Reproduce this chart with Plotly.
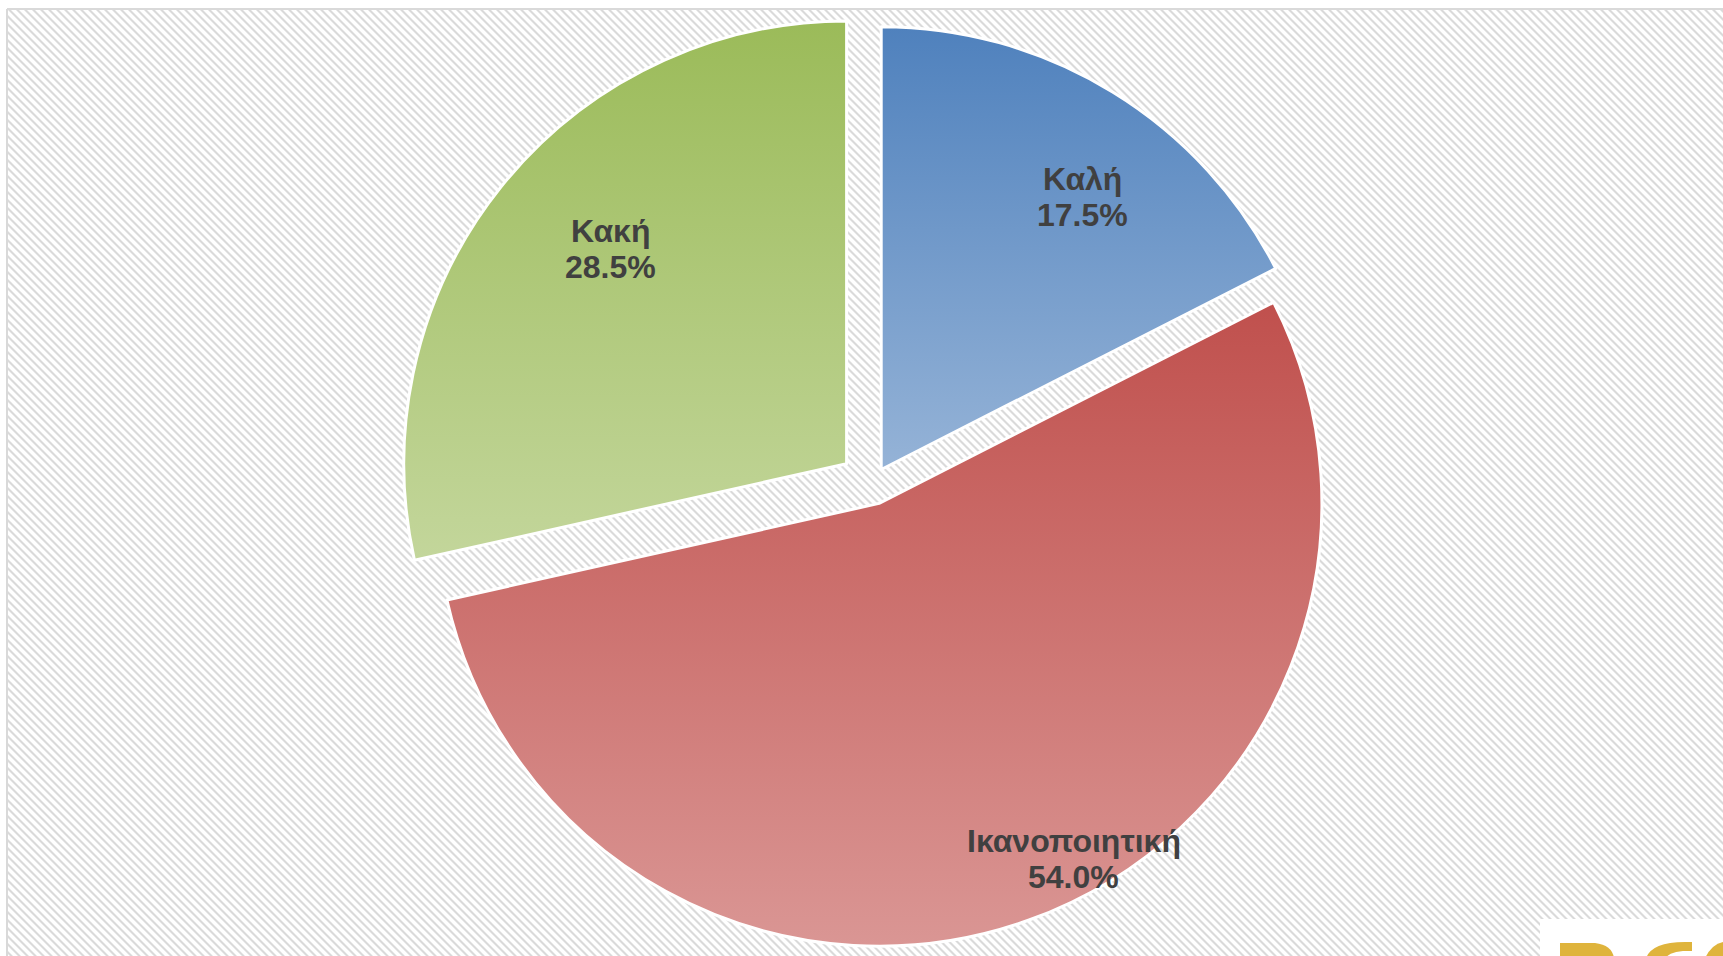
import json
import math
import base64
import plotly.graph_objects as go

# ---- data ----
labels = ["Καλή", "Ικανοποιητική", "Κακή"]
values = [17.5, 54.0, 28.5]
pulls = [0.039, 0.046, 0.074]
colors_top = ["#4F81BD", "#C0504D", "#9BBB59"]
colors_bottom = ["#95B3D7", "#DA9694", "#C3D69B"]

# label placement (fraction of radius from slice vertex, angle offset from bisector, extra px up)
label_rfrac = [0.762, 0.919, 0.719]
label_dang = [5.3, -8.9, 3.1]
label_dy = [4, 0, 4]

W, H = 1723, 980          # figure is slightly taller than the 956px window (bottom is cropped)
DOM_X = [0.2011, 0.8113]
DOM_Y = [0.0206, 0.9912]
FONT = "Liberation Sans, Arial, sans-serif"
TXT_COLOR = "#404040"
FSIZE = 32
LINE_HALF = 18


def hex_to_rgb(h):
    h = h.lstrip("#")
    return "rgb(%d, %d, %d)" % (int(h[0:2], 16), int(h[2:4], 16), int(h[4:6], 16))


fig = go.Figure(go.Pie(
    labels=labels,
    values=values,
    sort=False,
    direction="clockwise",
    rotation=0,
    pull=pulls,
    marker=dict(colors=colors_top, line=dict(color="white", width=3)),
    textinfo="none",
    hoverinfo="skip",
    showlegend=False,
    domain=dict(x=DOM_X, y=DOM_Y),
))

# ---- labels positioned from the data (angles from values, pie geometry from domain) ----
dw = (DOM_X[1] - DOM_X[0]) * W
dh = (DOM_Y[1] - DOM_Y[0]) * H
cx = (DOM_X[0] + DOM_X[1]) / 2 * W
cy = H - (DOM_Y[0] + DOM_Y[1]) / 2 * H
r = min(dw, dh) / (2 * (1 + max(pulls))) - 2
total = sum(values)
annotations = []
cum = 0.0
for lab, v, pl, rf, da, dy in zip(labels, values, pulls, label_rfrac, label_dang, label_dy):
    mid = (cum + v / 2) / total * 360.0
    cum += v
    vx = cx + pl * r * math.sin(math.radians(mid))
    vy = cy - pl * r * math.cos(math.radians(mid))
    ang = math.radians(mid + da)
    lx = vx + rf * r * math.sin(ang)
    ly = vy - rf * r * math.cos(ang)
    pct = "%.1f%%" % (v / total * 100)
    for txt, ys in (("<b>%s</b>" % lab, LINE_HALF), ("<b>%s</b>" % pct, -LINE_HALF)):
        annotations.append(dict(
            x=lx / W, y=1 - ly / H, xref="paper", yref="paper",
            xanchor="center", yanchor="middle", yshift=ys + dy,
            text=txt, showarrow=False,
            font=dict(family=FONT, size=FSIZE, color=TXT_COLOR),
        ))

# hatched background
hatch_svg = (
    '<svg xmlns="http://www.w3.org/2000/svg" width="%d" height="%d">'
    '<defs><pattern id="p" patternUnits="userSpaceOnUse" width="8" height="8">'
    '<path d="M0,0 L3,0 L8,5 L8,8 Z M0,5 L3,8 L0,8 Z" fill="#dadada"/></pattern></defs>'
    '<rect width="100%%" height="100%%" fill="white"/>'
    '<rect width="100%%" height="100%%" fill="url(#p)"/></svg>'
) % (W - 8, H - 10)
hatch_uri = "data:image/svg+xml;base64," + base64.b64encode(hatch_svg.encode()).decode()


def px(x, y):
    return "%.5f,%.5f" % (x / W, 1 - y / H)


logo_paths = [
    "M%s L%s L%s Q%s %s L%s L%s Z" % (px(1560, 975), px(1560, 943), px(1595, 943), px(1612, 945),
                                      px(1614, 958), px(1614, 975), px(1560, 975)),
    "M%s Q%s %s L%s L%s L%s Q%s %s Z" % (px(1646, 958), px(1652, 942), px(1685, 942), px(1692, 942),
                                         px(1692, 951), px(1683, 951), px(1668, 952), px(1664, 960)),
    "M%s Q%s %s L%s Z" % (px(1705, 958), px(1712, 944), px(1723, 942), px(1723, 975)),
]

shapes = [
    dict(type="line", xref="paper", yref="paper", x0=7 / W, x1=1, y0=1 - 9 / H, y1=1 - 9 / H,
         line=dict(color="#d9d9d9", width=2)),
    dict(type="line", xref="paper", yref="paper", x0=7 / W, x1=7 / W, y0=0, y1=1 - 9 / H,
         line=dict(color="#d9d9d9", width=2)),
    dict(type="rect", xref="paper", yref="paper", x0=1540 / W, x1=1, y0=0, y1=1 - 919 / H,
         fillcolor="white", line=dict(width=0)),
]
for p in logo_paths:
    shapes.append(dict(type="path", xref="paper", yref="paper", path=p,
                       fillcolor="#DFB43C", line=dict(width=0)))

fig.update_layout(
    width=W, height=H,
    margin=dict(l=0, r=0, t=0, b=0),
    paper_bgcolor="white",
    plot_bgcolor="white",
    images=[dict(source=hatch_uri, xref="paper", yref="paper", x=8 / W, y=1 - 10 / H,
                 sizex=(W - 8) / W, sizey=(H - 10) / H, xanchor="left", yanchor="top",
                 sizing="stretch", layer="below")],
    shapes=shapes,
    annotations=annotations,
)

grad_map = {hex_to_rgb(t): [t, b, i] for i, (t, b) in enumerate(zip(colors_top, colors_bottom))}

post_script = """
document.body.style.margin = '0';
document.body.style.overflow = 'hidden';
var gd = document.getElementById('{plot_id}');
var GM = %s;
function applyGrad(){
  var ns = 'http://www.w3.org/2000/svg';
  var svg = gd.querySelector('svg.main-svg');
  var defs = svg.querySelector('defs');
  if(!defs){ defs = document.createElementNS(ns,'defs'); svg.insertBefore(defs, svg.firstChild); }
  Object.keys(GM).forEach(function(k){
    var g = GM[k]; var id = 'slicegrad' + g[2];
    if(!document.getElementById(id)){
      var lg = document.createElementNS(ns,'linearGradient');
      lg.setAttribute('id', id);
      lg.setAttribute('x1','0'); lg.setAttribute('y1','0');
      lg.setAttribute('x2','0'); lg.setAttribute('y2','1');
      var s1 = document.createElementNS(ns,'stop'); s1.setAttribute('offset','0'); s1.setAttribute('stop-color', g[0]);
      var s2 = document.createElementNS(ns,'stop'); s2.setAttribute('offset','1'); s2.setAttribute('stop-color', g[1]);
      lg.appendChild(s1); lg.appendChild(s2); defs.appendChild(lg);
    }
  });
  gd.querySelectorAll('g.slice path.surface').forEach(function(p){
    var f = p.style.fill.replace(/\\s+/g,' ');
    if(GM[f]){ p.style.fill = 'url(#slicegrad' + GM[f][2] + ')'; }
  });
}
applyGrad();
gd.on('plotly_afterplot', applyGrad);
""" % json.dumps(grad_map)

fig.write_html("out.html", post_script=post_script, config={"displayModeBar": False})
